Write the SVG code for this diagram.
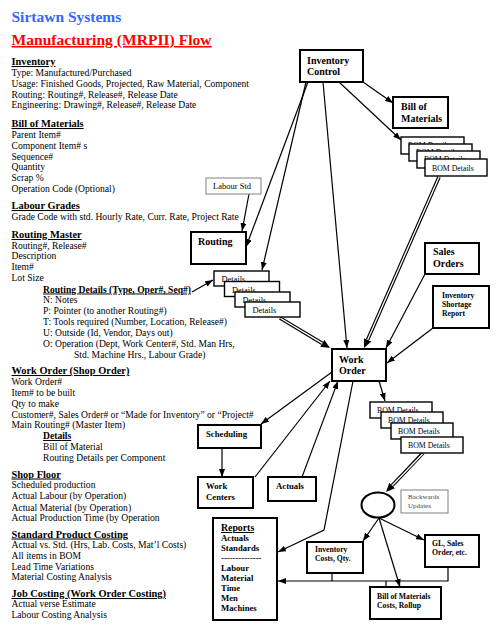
<svg xmlns="http://www.w3.org/2000/svg" width="496" height="639" viewBox="0 0 496 639">
<style>
text{font-family:"Liberation Serif","Times New Roman",serif;fill:#000}
.t{font-size:9.6px}
.h{font-size:10.4px;font-weight:bold;text-decoration:underline}
.sh{font-size:9.6px;font-weight:bold;text-decoration:underline}
.n{fill:#fff;stroke:#000;stroke-width:2}
.s{fill:#fff;stroke:#000;stroke-width:1.4}
.g{fill:#fff;stroke:#808080;stroke-width:1}
.nb{font-size:10px;font-weight:bold}
.ns{font-size:8.7px;font-weight:bold}
.nx{font-size:7.7px;font-weight:bold}
.d{font-size:7.8px}
.dt{font-size:8.4px}
.c{fill:none;stroke:#000;stroke-width:1.2}
.dbo{fill:none;stroke:#000;stroke-width:3.6}
.dbi{fill:none;stroke:#fff;stroke-width:1.3}
</style>
<defs>
<marker id="ah" markerWidth="8" markerHeight="6" refX="8" refY="3" orient="auto" markerUnits="userSpaceOnUse"><path d="M0,0 L8,3 L0,6 z" fill="#000"/></marker>
<marker id="ah2" markerWidth="9" markerHeight="8" refX="0" refY="4" orient="auto" markerUnits="userSpaceOnUse"><path d="M0,0 L9,4 L0,8 z" fill="#000"/></marker>
<clipPath id="cb1"><rect x="401" y="137" width="8" height="7"/><rect x="401" y="137" width="63" height="7"/></clipPath>
<clipPath id="cb2"><rect x="409" y="144" width="63" height="7"/></clipPath>
<clipPath id="cb3"><rect x="417" y="151" width="63" height="8"/></clipPath>
</defs>
<rect width="496" height="639" fill="#fff"/>

<g id="titles">
<text x="11.5" y="22" style="font-size:15.5px;font-weight:bold;fill:#3366ff">Sirtawn Systems</text>
<text x="11.5" y="45" style="font-size:15.6px;font-weight:bold;fill:#ff0000;text-decoration:underline">Manufacturing (MRPII) Flow</text>
</g>

<g id="notes">
<text class="h" x="11.5" y="65">Inventory</text>
<text class="t" x="11.5" y="76">Type: Manufactured/Purchased</text>
<text class="t" x="11.5" y="86.5">Usage: Finished Goods, Projected, Raw Material, Component</text>
<text class="t" x="11.5" y="97.5">Routing: Routing#, Release#, Release Date</text>
<text class="t" x="11.5" y="108">Engineering: Drawing#, Release#, Release Date</text>
<text class="h" x="11.5" y="127">Bill of Materials</text>
<text class="t" x="11.5" y="138">Parent Item#</text>
<text class="t" x="11.5" y="149">Component Item# s</text>
<text class="t" x="11.5" y="159.5">Sequence#</text>
<text class="t" x="11.5" y="170">Quantity</text>
<text class="t" x="11.5" y="181">Scrap %</text>
<text class="t" x="11.5" y="192">Operation Code (Optional)</text>
<text class="h" x="11.5" y="209">Labour Grades</text>
<text class="t" x="11.5" y="219.5">Grade Code with std. Hourly Rate, Curr. Rate, Project Rate</text>
<text class="h" x="11.5" y="238">Routing Master</text>
<text class="t" x="11.5" y="248.5">Routing#, Release#</text>
<text class="t" x="11.5" y="259">Description</text>
<text class="t" x="11.5" y="270">Item#</text>
<text class="t" x="11.5" y="281">Lot Size</text>
<text class="sh" x="43" y="292.5">Routing Details (Type, Oper#, Seq#)</text>
<text class="t" x="43" y="303">N: Notes</text>
<text class="t" x="43" y="314">P: Pointer (to another Routing#)</text>
<text class="t" x="43" y="325">T: Tools required (Number, Location, Release#)</text>
<text class="t" x="43" y="336">U: Outside (Id, Vendor, Days out)</text>
<text class="t" x="43" y="347">O: Operation (Dept, Work Center#, Std. Man Hrs,</text>
<text class="t" x="74" y="358">Std. Machine Hrs., Labour Grade)</text>
<text class="h" x="11.5" y="374">Work Order (Shop Order)</text>
<text class="t" x="11.5" y="384.5">Work Order#</text>
<text class="t" x="11.5" y="395.5">Item# to be built</text>
<text class="t" x="11.5" y="406.5">Qty to make</text>
<text class="t" x="11.5" y="417.5">Customer#, Sales Order# or “Made for Inventory” or “Project#</text>
<text class="t" x="11.5" y="428">Main Routing# (Master Item)</text>
<text class="sh" x="43" y="439">Details</text>
<text class="t" x="43" y="450">Bill of Material</text>
<text class="t" x="43" y="461">Routing Details per Component</text>
<text class="h" x="11.5" y="477.5">Shop Floor</text>
<text class="t" x="11.5" y="488">Scheduled production</text>
<text class="t" x="11.5" y="498.5">Actual Labour (by Operation)</text>
<text class="t" x="11.5" y="510.5">Actual Material (by Operation)</text>
<text class="t" x="11.5" y="521">Actual Production Time (by Operation</text>
<text class="h" x="11.5" y="537.5">Standard Product Costing</text>
<text class="t" x="11.5" y="548">Actual vs. Std. (Hrs, Lab. Costs, Mat’l Costs)</text>
<text class="t" x="11.5" y="559">All items in BOM</text>
<text class="t" x="11.5" y="569.5">Lead Time Variations</text>
<text class="t" x="11.5" y="580">Material Costing Analysis</text>
<text class="h" x="11.5" y="597">Job Costing (Work Order Costing)</text>
<text class="t" x="11.5" y="607">Actual verse Estimate</text>
<text class="t" x="11.5" y="618">Labour Costing Analysis</text>
</g>

<g id="connectors">
<path class="c" d="M363,82 L393,103" marker-end="url(#ah)"/>
<path class="c" d="M339,82 L401,140" marker-end="url(#ah)"/>
<path class="c" d="M308,82 L246,247" marker-end="url(#ah)"/>
<path class="c" d="M306,82 L262,270" marker-end="url(#ah)"/>
<path class="c" d="M323,82 L347,348" marker-end="url(#ah)"/>
<path class="c" d="M249,194 L242,231" marker-end="url(#ah)"/>
<path class="c" d="M192,292 L213,280" marker-end="url(#ah)"/>
<path class="dbo" d="M280,318 L322.3,343.4" marker-end="url(#ah2)"/>
<path class="dbi" d="M280.5,318.3 L322.3,343.4"/>
<path class="dbo" d="M439,177 L367.6,339.8" marker-end="url(#ah2)"/>
<path class="dbi" d="M439,177 L367.6,339.8"/>
<path class="c" d="M425,274 L386,348" marker-end="url(#ah)"/>
<path class="c" d="M433,328 L387,363" marker-end="url(#ah)"/>
<path class="c" d="M332,372 L261,424" marker-end="url(#ah)"/>
<path class="c" d="M222,448 L222,477" marker-end="url(#ah)"/>
<path class="c" d="M255,477 L330,381" marker-end="url(#ah)"/>
<path class="c" d="M302,477 L338,381" marker-end="url(#ah)"/>
<path class="c" d="M353,381 L324,530 L278,552" marker-end="url(#ah)"/>
<path class="c" d="M379,381 L385,401" marker-end="url(#ah)"/>
<path class="dbo" d="M423,453 L392.2,485.5" marker-end="url(#ah2)"/>
<path class="dbi" d="M423,453.5 L392.2,485.5"/>
<path class="c" d="M379,518 L363,541" marker-end="url(#ah)"/>
<path class="c" d="M379,518 L424,540" marker-end="url(#ah)"/>
<path class="c" d="M379,518 L400,587" marker-end="url(#ah)"/>
<path class="c" d="M332,573 V581"/>
<path class="c" d="M386,581 V587"/>
<path class="c" d="M448,567 V581 H278" marker-end="url(#ah)"/>
</g>

<g id="inventory-control"><rect class="n" x="300" y="50" width="63" height="32"/><text class="nb" x="307" y="64">Inventory</text><text class="nb" x="307" y="75">Control</text></g>
<g id="bill-of-materials"><rect class="n" x="393" y="97" width="55" height="31"/><text class="nb" x="401" y="110">Bill of</text><text class="nb" x="401" y="122">Materials</text></g>
<g id="bom-details-top">
<rect class="s" x="401" y="137" width="63" height="17"/><text class="d" x="408" y="147.5" clip-path="url(#cb1)">BOM Details</text>
<rect class="s" x="409" y="144" width="63" height="17"/><text class="d" x="416" y="154.5" clip-path="url(#cb2)">BOM Details</text>
<rect class="s" x="417" y="151" width="63" height="17"/><text class="d" x="424" y="161.5" clip-path="url(#cb3)">BOM Details</text>
<rect class="s" x="425" y="159" width="62" height="17"/><text class="d" x="432" y="170.5">BOM Details</text>
</g>
<g id="labour-std"><rect class="g" x="206" y="178" width="55" height="16"/><text style="font-size:8.5px" x="213" y="189">Labour Std</text></g>
<g id="routing"><rect class="n" x="191" y="232" width="55" height="32"/><text class="nb" x="198" y="245">Routing</text></g>
<g id="details-stack">
<rect class="s" x="214" y="271" width="55" height="15"/><text class="dt" x="221.5" y="282">Details</text>
<rect class="s" x="224.5" y="281.5" width="55" height="15"/><text class="dt" x="232" y="292.5">Details</text>
<rect class="s" x="235" y="292" width="55" height="15"/><text class="dt" x="242.5" y="303">Details</text>
<rect class="s" x="245" y="302" width="55" height="15"/><text class="dt" x="252.5" y="313">Details</text>
</g>
<g id="sales-orders"><rect class="n" x="425" y="243" width="54" height="31"/><text class="nb" x="433" y="255">Sales</text><text class="nb" x="433" y="267">Orders</text></g>
<g id="inventory-shortage-report"><rect class="n" x="433" y="286" width="56" height="42"/><text class="nx" x="442" y="298">Inventory</text><text class="nx" x="442" y="307">Shortage</text><text class="nx" x="442" y="316">Report</text></g>
<g id="work-order"><rect class="n" x="332" y="349" width="54" height="32"/><text class="nb" x="339" y="362.5">Work</text><text class="nb" x="339" y="373.5">Order</text></g>
<g id="bom-details-lower">
<rect class="s" x="370" y="402" width="62" height="16"/><text class="d" x="377" y="412.5">BOM Details</text>
<rect class="s" x="381" y="412" width="62" height="16"/><text class="d" x="388" y="422.5">BOM Details</text>
<rect class="s" x="391" y="423" width="62" height="16"/><text class="d" x="398" y="433.5">BOM Details</text>
<rect class="s" x="401" y="437" width="62" height="16"/><text class="d" x="408" y="447.5">BOM Details</text>
</g>
<g id="scheduling"><rect class="n" x="198" y="425" width="63" height="23"/><text class="ns" x="206" y="437">Scheduling</text></g>
<g id="work-centers"><rect class="n" x="198" y="477" width="55" height="31"/><text class="ns" x="206" y="489">Work</text><text class="ns" x="206" y="499.5">Centers</text></g>
<g id="actuals"><rect class="n" x="268" y="477" width="48" height="24"/><text class="ns" x="276" y="489">Actuals</text></g>
<g id="update-hub"><ellipse cx="378" cy="505" rx="16.5" ry="12.5" fill="#fff" stroke="#000" stroke-width="2"/></g>
<g id="backwards-updates"><rect class="g" x="401" y="490" width="47" height="23"/><text style="font-size:7px;fill:#444" x="408" y="499">Backwards</text><text style="font-size:7px;fill:#444" x="408" y="507.5">Updates</text></g>
<g id="reports"><rect class="n" x="213" y="518" width="64" height="102"/>
<text x="221" y="531" style="font-size:9.8px;font-weight:bold;text-decoration:underline">Reports</text>
<text class="ns" x="221" y="541">Actuals</text>
<text class="ns" x="221" y="551">Standards</text>
<text class="ns" x="221" y="561">--------------</text>
<text class="ns" x="221" y="571">Labour</text>
<text class="ns" x="221" y="581">Material</text>
<text class="ns" x="221" y="591">Time</text>
<text class="ns" x="221" y="601">Men</text>
<text class="ns" x="221" y="611">Machines</text>
</g>
<g id="inventory-costs"><rect class="n" x="307" y="542" width="56" height="31"/><text class="nx" x="315" y="552">Inventory</text><text class="nx" x="315" y="561">Costs, Qty.</text></g>
<g id="gl-sales-order"><rect class="n" x="425" y="535" width="54" height="32"/><text class="nx" x="432" y="546">GL, Sales</text><text class="nx" x="432" y="554.5">Order, etc.</text></g>
<g id="bom-costs"><rect class="n" x="370" y="587" width="71" height="32"/><text class="nx" x="377" y="599">Bill of Materials</text><text class="nx" x="377" y="608">Costs, Rollup</text></g>
</svg>
